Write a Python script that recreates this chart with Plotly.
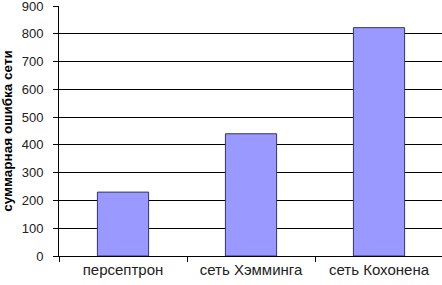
import plotly.graph_objects as go

categories = ["персептрон", "сеть Хэмминга", "сеть Кохонена"]
values = [230, 440, 822]
y_ticks = [0, 100, 200, 300, 400, 500, 600, 700, 800, 900]
grid_ticks = [100, 200, 300, 400, 500, 600, 700, 800]

fig = go.Figure()
fig.add_trace(go.Bar(
    x=categories, y=values, width=0.4,
    marker=dict(color="#9999FF", line=dict(color="#333366", width=1)),
))
fig.update_layout(
    width=442, height=285,
    margin=dict(l=59, r=0, t=6, b=29),
    paper_bgcolor="white", plot_bgcolor="white",
    showlegend=False,
    font=dict(family="Liberation Sans, Arial, sans-serif", size=13, color="black"),
)
fig.update_xaxes(
    type="category", range=[-0.5, 2.492],
    tickson="boundaries", ticks="outside", ticklen=5, tickcolor="black",
    showline=True, linecolor="black", linewidth=1,
    showgrid=False, automargin=False,
    tickfont=dict(size=15, color="#222222"),
)
fig.update_yaxes(
    range=[0, 900], tickvals=y_ticks,
    ticks="outside", ticklen=5, tickcolor="black",
    showline=True, linecolor="black", linewidth=1,
    showgrid=False, zeroline=False, automargin=False,
    ticklabeloverflow="allow", ticklabelstandoff=7,
    minor=dict(tickvals=grid_ticks, showgrid=True, gridcolor="black", gridwidth=1, ticks=""),
    tickfont=dict(size=13, color="#222222"),
    title=dict(text="<b>суммарная ошибка сети</b>", font=dict(size=13.5, color="black"), standoff=8),
)
fig.write_html(
    "out.html",
    config={"displayModeBar": False},
    post_script="document.body.style.margin='0';document.body.style.overflow='hidden';",
)
